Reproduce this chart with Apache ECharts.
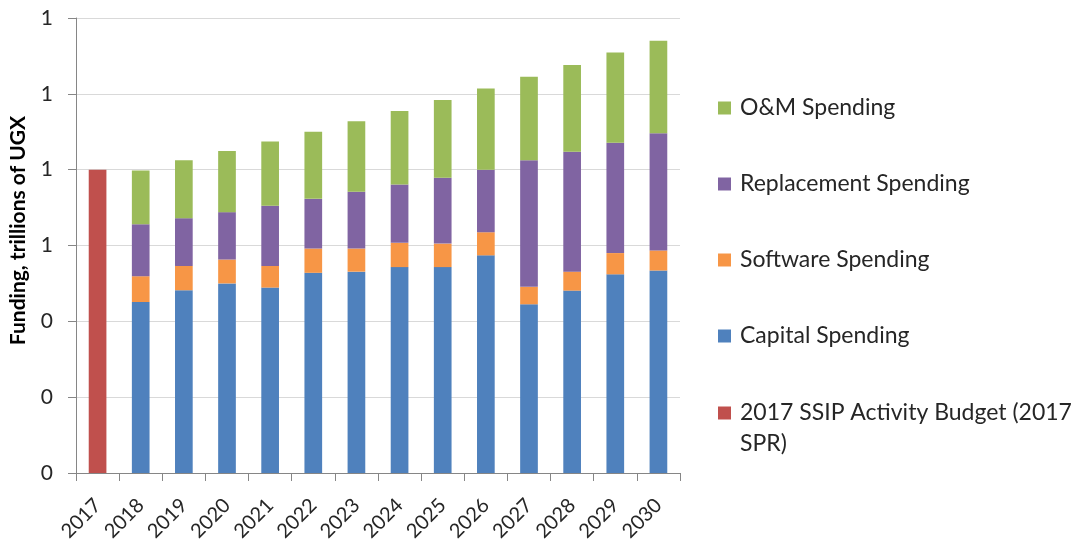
<!DOCTYPE html>
<html>
<head>
<meta charset="utf-8">
<script src="https://cdn.jsdelivr.net/npm/echarts@6/dist/echarts.min.js"></script>
<style>
html,body{margin:0;padding:0;background:#fff;}
#chart{width:1071px;height:544px;}
</style>
</head>
<body>
<div id="chart"></div>
<script>
var years = ['2017','2018','2019','2020','2021','2022','2023','2024','2025','2026','2027','2028','2029','2030'];
var capital = ['-',0.451,0.482,0.500,0.489,0.528,0.531,0.543,0.543,0.574,0.445,0.481,0.524,0.534];
var software = ['-',0.068,0.064,0.063,0.057,0.064,0.061,0.064,0.062,0.061,0.046,0.050,0.056,0.053];
var replacement = ['-',0.137,0.126,0.125,0.159,0.131,0.150,0.154,0.174,0.165,0.334,0.316,0.291,0.309];
var om = ['-',0.142,0.153,0.161,0.169,0.177,0.186,0.194,0.205,0.214,0.220,0.229,0.238,0.244];
var budget = [0.8,'-','-','-','-','-','-','-','-','-','-','-','-','-'];
var yTicks = {min:0, max:1.2, interval:0.2};

var FONT = 'Lato';
var TXT = '#262626';
var chart = echarts.init(document.getElementById('chart'));
var budgetName = '2017 SSIP Activity Budget (2017 SPR)';
function bar(name, data, color){
  return {name:name, type:'bar', stack:'total', data:data, barWidth:'41%',
    itemStyle:{color:color}, emphasis:{disabled:true}};
}
chart.setOption({
  animation:false,
  textStyle:{fontFamily:FONT},
  grid:{left:76, right:391, top:18, bottom:71, containLabel:false},
  legend:[{
    orient:'vertical', left:718, top:93, padding:0,
    itemWidth:13, itemHeight:13, itemGap:46, icon:'rect',
    data:['O&M Spending','Replacement Spending','Software Spending','Capital Spending'],
    textStyle:{fontFamily:FONT, fontSize:23, lineHeight:30, color:TXT, padding:[0,0,0,4]}
  },{
    orient:'vertical', left:718, top:366.5, padding:0,
    itemWidth:13, itemHeight:13, icon:'rect',
    data:[budgetName],
    formatter:function(){return '\n2017 SSIP Activity Budget (2017\nSPR)';},
    textStyle:{fontFamily:FONT, fontSize:23, lineHeight:31, color:TXT, padding:[0,0,0,4]}
  }],
  xAxis:{
    type:'category', data:years,
    axisLine:{lineStyle:{color:'#868686'}},
    axisTick:{show:true, length:8, lineStyle:{color:'#868686'}},
    axisLabel:{rotate:45, fontSize:20, color:TXT, fontFamily:FONT, margin:29}
  },
  yAxis:{
    type:'value', min:yTicks.min, max:yTicks.max, interval:yTicks.interval,
    name:'Funding, trillions of UGX', nameLocation:'middle', nameGap:47,
    nameTextStyle:{fontFamily:FONT, fontSize:21, fontWeight:'bold', color:'#000', padding:[0,0,0,30]},
    axisLine:{show:true, lineStyle:{color:'#868686'}},
    axisTick:{show:true, length:8, lineStyle:{color:'#868686'}},
    splitLine:{lineStyle:{color:'#d9d9d9'}},
    axisLabel:{fontSize:21, color:TXT, fontFamily:FONT, margin:23,
      formatter:function(v){return (Math.round(v*10)/10).toFixed(0);}}
  },
  series:[
    bar(budgetName, budget, '#C0504D'),
    bar('Capital Spending', capital, '#4F81BD'),
    bar('Software Spending', software, '#F79646'),
    bar('Replacement Spending', replacement, '#8064A2'),
    bar('O&M Spending', om, '#9BBB59')
  ]
});
</script>
</body>
</html>
